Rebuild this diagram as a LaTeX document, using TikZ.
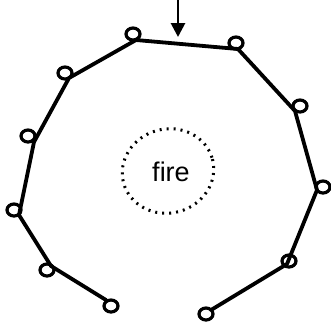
\documentclass[tikz,border=0pt]{standalone}
\usepackage{fontspec}
\setmainfont{Liberation Sans}
\usetikzlibrary{arrows.meta,shapes.geometric}
\begin{document}
\begin{tikzpicture}[x=1pt,y=-1pt,
  ring/.style={draw,line width=3.2pt,ellipse,minimum width=14pt,minimum height=12pt,inner sep=0pt},
  wall/.style={line width=3.8pt,line join=round,line cap=round},
  arr/.style={line width=2.8pt,-{Triangle[width=14pt,length=14pt]},shorten >=6pt},
  firering/.style={draw,line width=3pt,dash pattern=on 2pt off 5pt}]
\useasboundingbox (0,0) rectangle (331,325);
% vertices
\coordinate (v1) at (106,300);
\coordinate (v2) at (51,266);
\coordinate (v3) at (19,215);
\coordinate (v4) at (34,142);
\coordinate (v5) at (69,78);
\coordinate (v6) at (136,40);
\coordinate (v7) at (238,49);
\coordinate (v8) at (295,111);
\coordinate (v9) at (317,190);
\coordinate (v10) at (287,264);
\coordinate (v11) at (211,310);
\draw[wall] (v1) -- (v2) -- (v3) -- (v4) -- (v5) -- (v6) -- (v7) -- (v8) -- (v9) -- (v10) -- (v11);
% rings
\node[ring] (c1) at (111,306) {};
\node[ring] (c2) at (47,270) {};
\node[ring] (c3) at (14,210) {};
\node[ring] (c4) at (28,136) {};
\node[ring] (c5) at (65,73) {};
\node[ring] (c6) at (133,34) {};
\node[ring] (c7) at (236,43) {};
\node[ring] (c8) at (300,106) {};
\node[ring] (c9) at (323,187) {};
\node[ring] (c10) at (289,261) {};
\node[ring] (c11) at (206,314) {};
% arrow
\coordinate (s) at (178,-2);
\coordinate (t) at (178,43);
\draw[arr] (s) -- (t);
% fire
\draw[firering, rotate around={15:(168,171)}] (168,171) ellipse [x radius=46, y radius=42];
\node[font=\fontsize{27}{30}\selectfont,inner sep=0pt] (fire) at (171,172) {fire};
\end{tikzpicture}
\end{document}
